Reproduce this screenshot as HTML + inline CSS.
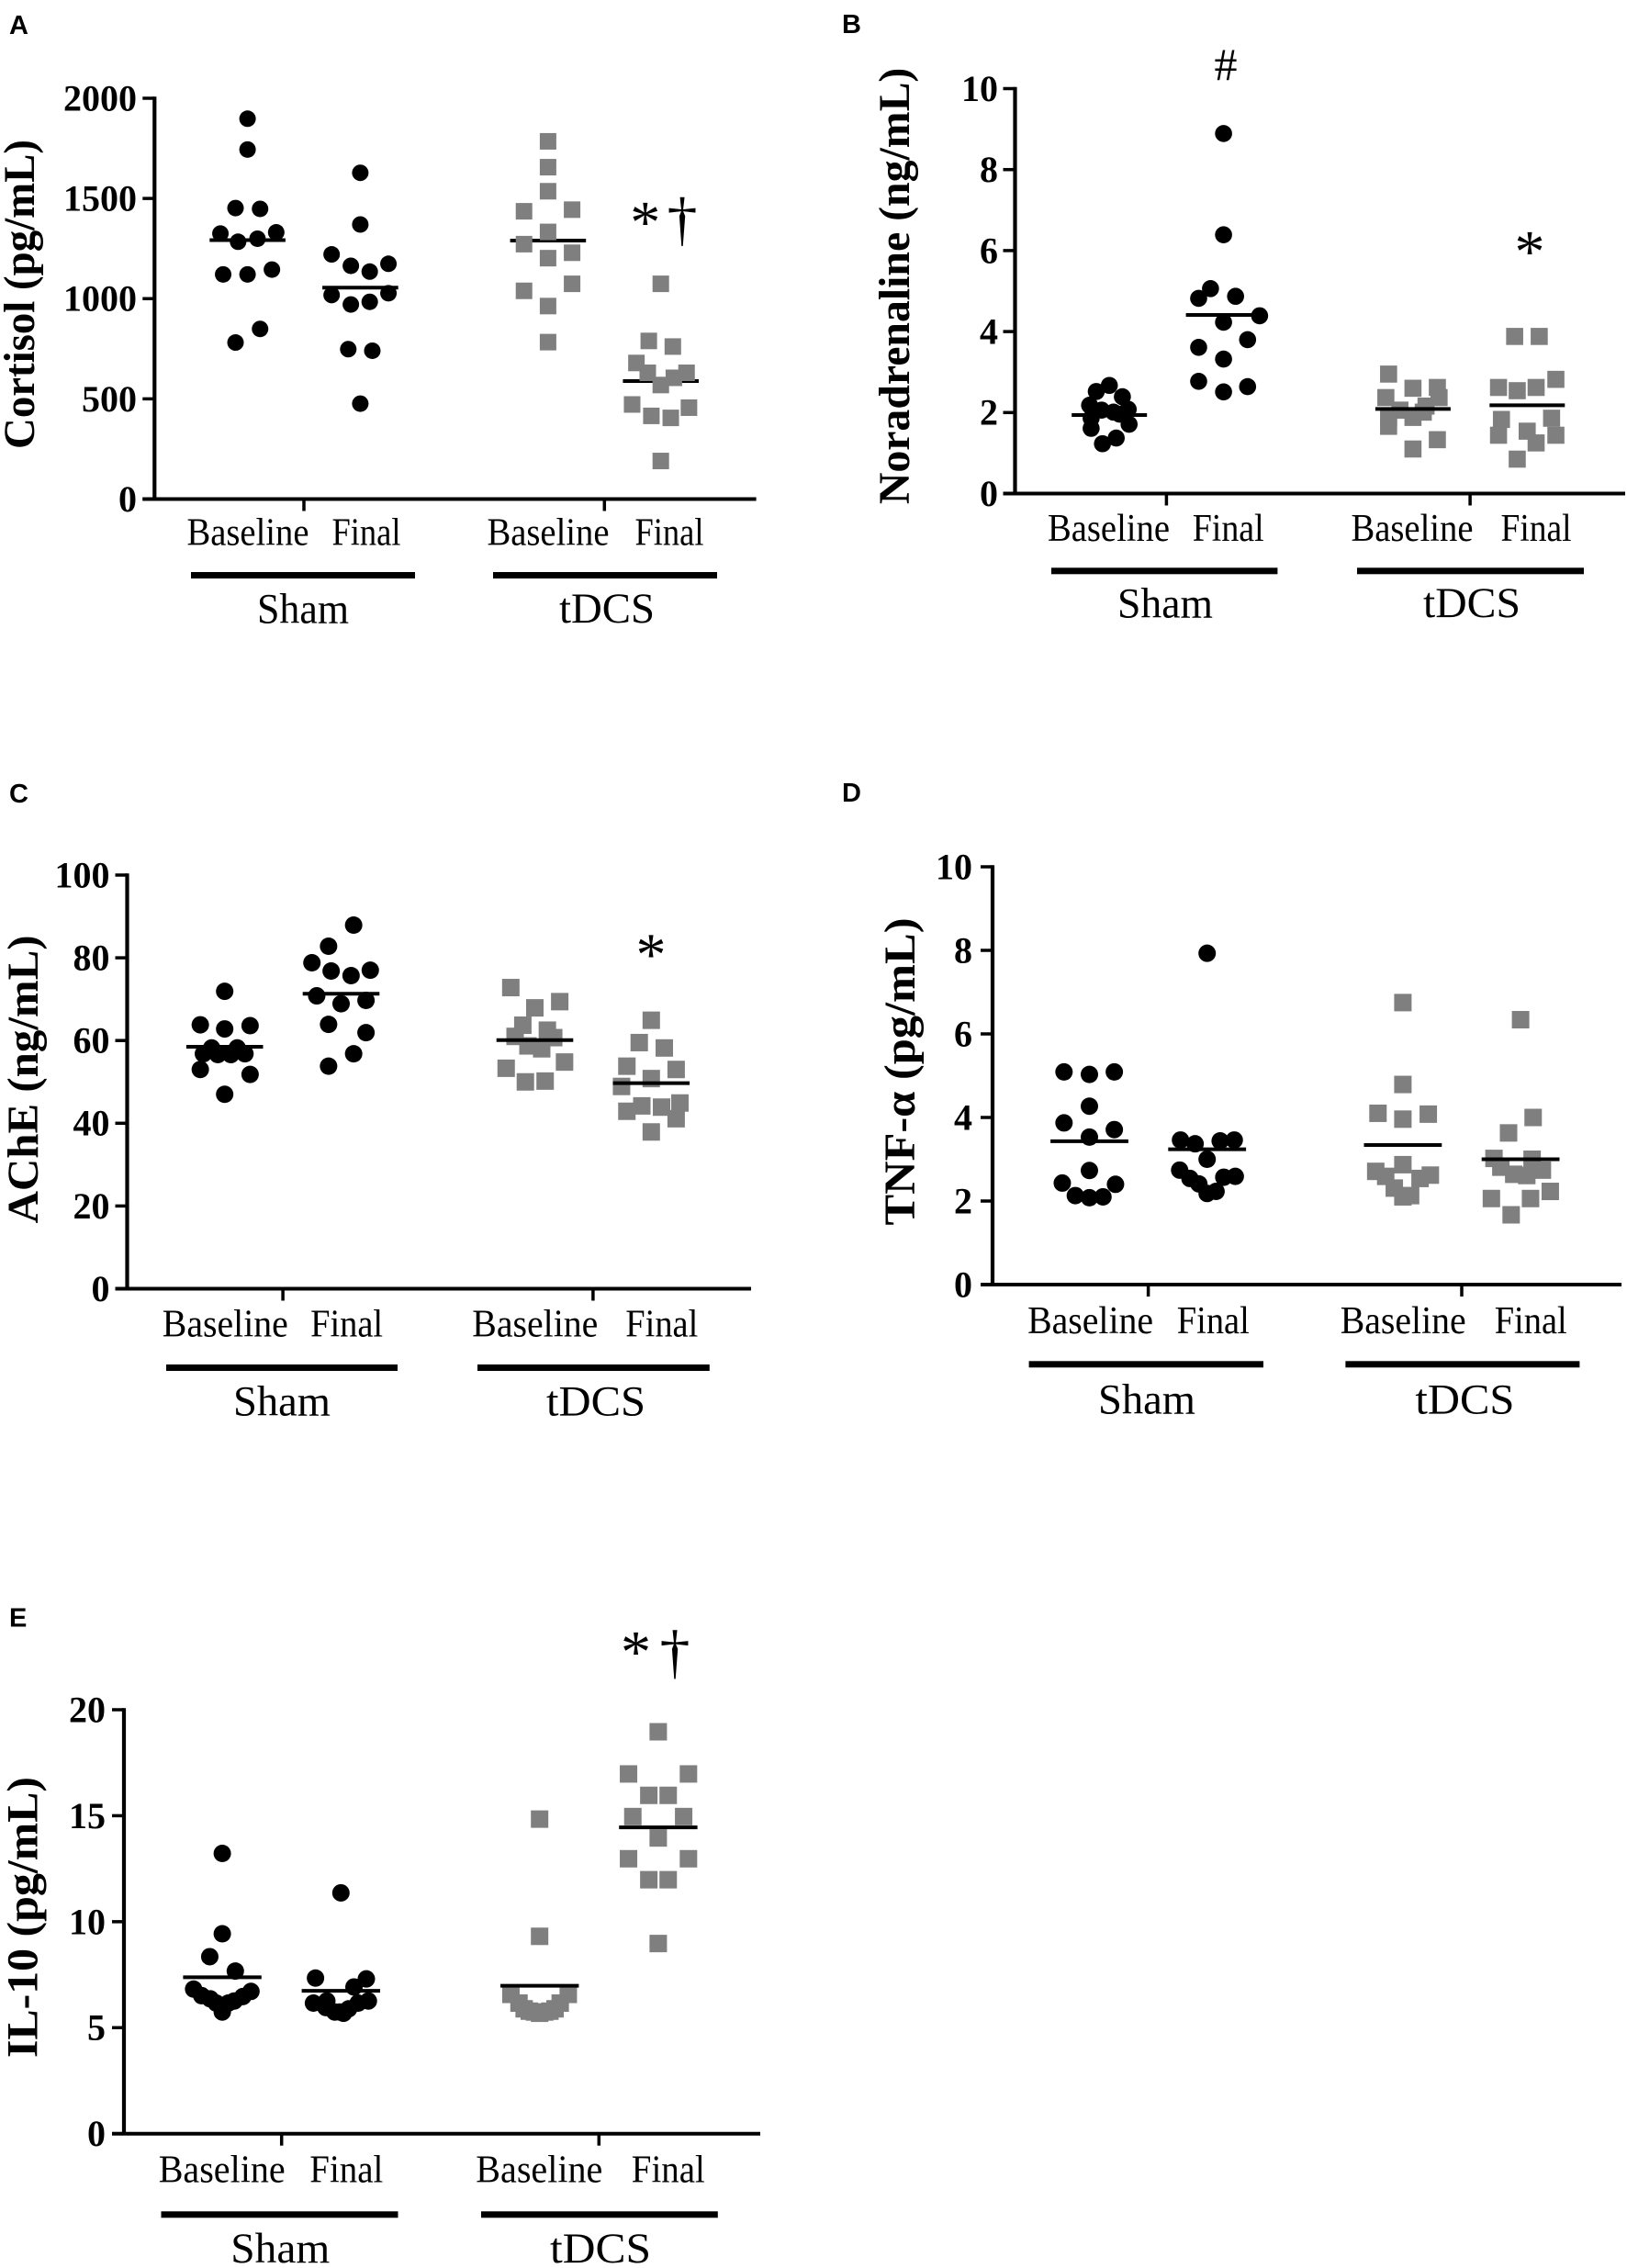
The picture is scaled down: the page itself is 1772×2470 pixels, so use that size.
<!DOCTYPE html>
<html lang="en">
<head>
<meta charset="utf-8">
<title>Biomarker dot plots</title>
<style>
html,body{margin:0;padding:0;background:#fff;}
svg{display:block;}
.tick{font:bold 40px "Liberation Serif",serif;fill:#000;text-anchor:end;}
.ttl{font:bold 48px "Liberation Serif",serif;fill:#000;text-anchor:middle;}
.cat{font:42px "Liberation Serif",serif;fill:#000;text-anchor:middle;}
.grp{font:47px "Liberation Serif",serif;fill:#000;text-anchor:middle;}
.pl{font:bold 29px "Liberation Sans",sans-serif;fill:#000;}
.sym{font:66px "Liberation Serif",serif;fill:#000;text-anchor:middle;}
.dag{font:66px "Liberation Serif",serif;fill:#000;text-anchor:middle;}
</style>
</head>
<body>
<svg id="fig" xmlns="http://www.w3.org/2000/svg" width="1772" height="2470" viewBox="0 0 1772 2470">
<rect width="1772" height="2470" fill="#fff"/>

<g>
<text class="pl" x="10" y="37">A</text>
<text class="ttl" transform="translate(37 320.5) rotate(-90)" textLength="337" lengthAdjust="spacingAndGlyphs">Cortisol (pg/mL)</text>
<text class="cat" x="270" y="593.3" textLength="133" lengthAdjust="spacingAndGlyphs">Baseline</text>
<text class="cat" x="399" y="593.3" textLength="75" lengthAdjust="spacingAndGlyphs">Final</text>
<text class="cat" x="597" y="593.3" textLength="133" lengthAdjust="spacingAndGlyphs">Baseline</text>
<text class="cat" x="729" y="593.3" textLength="75" lengthAdjust="spacingAndGlyphs">Final</text>
<rect x="208" y="623" width="244" height="7"/>
<rect x="537" y="623" width="244" height="7"/>
<text class="grp" x="330" y="678.7" textLength="100" lengthAdjust="spacingAndGlyphs">Sham</text>
<text class="grp" x="661" y="678" textLength="104" lengthAdjust="spacingAndGlyphs">tDCS</text>
<text class="sym" x="702.7" y="264">*</text>
<text class="dag" x="743" y="260.6">†</text>
</g>

<g>
<text class="pl" x="917" y="36">B</text>
<text class="ttl" transform="translate(990 311.4) rotate(-90)" textLength="475.5" lengthAdjust="spacingAndGlyphs">Noradrenaline (ng/mL)</text>
<text class="cat" x="1207.5" y="589" textLength="133" lengthAdjust="spacingAndGlyphs">Baseline</text>
<text class="cat" x="1337.7" y="589" textLength="78" lengthAdjust="spacingAndGlyphs">Final</text>
<text class="cat" x="1538" y="589" textLength="133" lengthAdjust="spacingAndGlyphs">Baseline</text>
<text class="cat" x="1673" y="589" textLength="77" lengthAdjust="spacingAndGlyphs">Final</text>
<rect x="1145" y="618.3" width="246.4" height="7"/>
<rect x="1478" y="618.3" width="247" height="7"/>
<text class="grp" x="1269" y="672.5" textLength="104" lengthAdjust="spacingAndGlyphs">Sham</text>
<text class="grp" x="1603" y="672" textLength="106" lengthAdjust="spacingAndGlyphs">tDCS</text>
<text class="sym" x="1335" y="87" style="font-size:50px">#</text>
<text class="sym" x="1666" y="296">*</text>
</g>

<g>
<text class="pl" x="10" y="874">C</text>
<text class="ttl" transform="translate(41 1175.4) rotate(-90)" textLength="314" lengthAdjust="spacingAndGlyphs">AChE (ng/mL)</text>
<text class="cat" x="245.3" y="1455.6" textLength="137" lengthAdjust="spacingAndGlyphs">Baseline</text>
<text class="cat" x="377.6" y="1455.6" textLength="79" lengthAdjust="spacingAndGlyphs">Final</text>
<text class="cat" x="582.8" y="1455.6" textLength="137" lengthAdjust="spacingAndGlyphs">Baseline</text>
<text class="cat" x="720.8" y="1455.6" textLength="79" lengthAdjust="spacingAndGlyphs">Final</text>
<rect x="181" y="1486" width="252" height="7"/>
<rect x="520" y="1486" width="252.8" height="7"/>
<text class="grp" x="307" y="1541.6" textLength="106" lengthAdjust="spacingAndGlyphs">Sham</text>
<text class="grp" x="649" y="1541.6" textLength="108" lengthAdjust="spacingAndGlyphs">tDCS</text>
<text class="sym" x="709" y="1061.5">*</text>
</g>

<g>
<text class="pl" x="917" y="873">D</text>
<text class="ttl" transform="translate(996 1167) rotate(-90)" textLength="335" lengthAdjust="spacingAndGlyphs">TNF-α (pg/mL)</text>
<text class="cat" x="1187.6" y="1452" textLength="137" lengthAdjust="spacingAndGlyphs">Baseline</text>
<text class="cat" x="1321.3" y="1452" textLength="79" lengthAdjust="spacingAndGlyphs">Final</text>
<text class="cat" x="1528.2" y="1452" textLength="137" lengthAdjust="spacingAndGlyphs">Baseline</text>
<text class="cat" x="1667.2" y="1452" textLength="79" lengthAdjust="spacingAndGlyphs">Final</text>
<rect x="1120.6" y="1482.3" width="255.4" height="7"/>
<rect x="1465.4" y="1482.3" width="255" height="7"/>
<text class="grp" x="1249" y="1539.3" textLength="106" lengthAdjust="spacingAndGlyphs">Sham</text>
<text class="grp" x="1595.4" y="1539.3" textLength="108" lengthAdjust="spacingAndGlyphs">tDCS</text>
</g>

<g>
<text class="pl" x="10" y="1771.6">E</text>
<text class="ttl" transform="translate(40.7 2088) rotate(-90)" textLength="306" lengthAdjust="spacingAndGlyphs">IL-10 (pg/mL)</text>
<text class="cat" x="241.7" y="2376.7" textLength="138" lengthAdjust="spacingAndGlyphs">Baseline</text>
<text class="cat" x="377.3" y="2376.7" textLength="80" lengthAdjust="spacingAndGlyphs">Final</text>
<text class="cat" x="587.3" y="2376.7" textLength="138" lengthAdjust="spacingAndGlyphs">Baseline</text>
<text class="cat" x="727.8" y="2376.7" textLength="80" lengthAdjust="spacingAndGlyphs">Final</text>
<rect x="175.5" y="2408.3" width="258" height="7"/>
<rect x="524" y="2408.3" width="257.8" height="7"/>
<text class="grp" x="305.3" y="2464" textLength="108" lengthAdjust="spacingAndGlyphs">Sham</text>
<text class="grp" x="654" y="2464" textLength="110" lengthAdjust="spacingAndGlyphs">tDCS</text>
<text class="sym" x="692.5" y="1821">*</text>
<text class="dag" x="735" y="1820.8">†</text>
</g>

<g id="marks"></g>
</svg>

<script>
// Y-axis tick labels
const ticksA = [0, 500, 1000, 1500, 2000];
const ticksB = [0, 2, 4, 6, 8, 10];
const ticksC = [0, 20, 40, 60, 80, 100];
const ticksD = [0, 2, 4, 6, 8, 10];
const ticksE = [0, 5, 10, 15, 20];

// Horizontal lines: group means
const meansA = [1292, 1055, 1290, 589];
const meansB = [1.94, 4.41, 2.09, 2.18];
const meansC = [58.5, 71.3, 60.1, 49.7];
const meansD = [3.43, 3.24, 3.34, 3.0];
const meansE = [7.38, 6.74, 6.98, 14.45];

// Panel A: Cortisol
const aShamBaseline = [1898,1744,1452,1448,1325,1331,1284,1299,1121,1121,1145,849,781];
const aShamBaselineJitter = [0,0,-0.7,0.73,-1.58,1.67,-0.55,0.58,-1.42,0,1.42,0.73,-0.7];
const aShamFinal = [1628,1370,1221,1174,1164,1135,1018,1027,971,984,748,740,476];
const aShamFinalJitter = [0,0,-1.67,1.64,-0.55,0.55,-1.67,1.64,-0.55,0.55,-0.7,0.7,0];
const aTdcsBaseline = [1785,1656,1536,1436,1444,1333,1272,1229,1202,1074,1039,963,783];
const aTdcsBaselineJitter = [0,0,0,-1.4,1.4,0,-1.4,1.4,0,1.4,-1.4,0,0];
const aTdcsFinal = [1074,789,761,679,630,630,605,569,472,456,415,405,190];
const aTdcsFinalJitter = [0,-0.7,0.7,-1.42,-0.76,1.5,0.76,0,-1.67,1.64,-0.55,0.58,0];

// Panel B: Noradrenaline
const bShamBaseline = [2.67,2.52,2.39,2.18,2.08,2.06,1.96,1.86,2.01,1.71,1.61,1.37,1.23];
const bShamBaselineJitter = [0,-0.76,0.76,-1.15,1.1,-0.45,0.6,-1.06,0.24,1.15,-1.06,0.4,-0.4];
const bShamFinal = [8.89,6.39,5.06,4.82,4.87,4.39,4.23,3.8,3.61,3.32,2.77,2.64,2.51];
const bShamFinalJitter = [0,0,-0.76,-1.45,0.7,2.1,0,1.4,-1.45,0,-1.45,1.4,0];
const bTdcsBaseline = [2.95,2.6,2.62,2.37,2.37,2.16,2.06,2.01,1.86,1.88,1.66,1.33,1.1];
const bTdcsBaselineJitter = [-1.42,0,1.42,-1.58,1.52,0.76,-0.76,0.6,-1.42,0,-1.42,1.42,0];
const bTdcsFinal = [3.88,3.88,2.82,2.62,2.62,2.54,1.83,1.86,1.54,1.44,1.44,1.25,0.85];
const bTdcsFinalJitter = [-0.73,0.7,1.67,-1.67,0.52,-0.58,-1.5,1.42,0,-1.67,1.67,0.52,-0.58];

// Panel C: AChE
const cShamBaseline = [71.9,63.8,63.6,62.8,58.2,58.2,56.8,56.6,56.6,56.8,53,51.8,47];
const cShamBaselineJitter = [0,-1.42,1.48,0,-0.76,0.73,-1.24,-0.4,0.36,1.18,-1.42,1.48,0];
const cShamFinal = [87.9,82.8,78.8,77,76.8,75.7,70.8,69.7,68.9,63.9,61.9,56.8,53.8];
const cShamFinalJitter = [0.73,-0.73,-1.7,1.7,-0.58,0.58,-1.42,1.45,0,-0.73,1.45,0.73,-0.73];
const cTdcsBaseline = [72.8,69.4,67.9,63.7,62.5,61,60.7,58.7,58,53.3,54.8,50,50.2];
const cTdcsBaselineJitter = [-1.4,1.45,0,-0.7,0.73,-1.15,1.1,-0.4,0.4,-1.67,1.73,-0.55,0.6];
const cTdcsFinal = [64.9,59.5,58.2,53.8,53,50.8,48.9,44.9,44.2,43.9,42.9,41.1,37.9];
const cTdcsFinalJitter = [0,-0.7,0.76,-1.42,1.45,0,-1.73,1.67,-0.55,0.6,-1.42,1.45,0];

// Panel D: TNF-alpha
const dShamBaseline = [5.09,5.03,5.09,4.27,3.87,3.71,3.53,2.73,2.43,2.4,2.13,2.08,2.1];
const dShamBaselineJitter = [-1.48,0,1.45,0,-1.48,1.45,0,0,-1.58,1.52,-0.82,0,0.79];
const dShamFinal = [7.93,3.46,3.37,3.44,3.46,3.0,2.74,2.59,2.54,2.57,2.41,2.23,2.18];
const dShamFinalJitter = [0,-1.55,-0.7,0.76,1.58,0,-1.6,1.64,-1,0.97,-0.48,0.52,0];
const dTdcsBaseline = [6.75,4.79,4.1,4.08,3.96,2.87,2.71,2.62,2.59,2.54,2.31,2.13,2.1];
const dTdcsBaselineJitter = [0,0,-1.45,1.48,0,0,-1.58,1.6,-1,1,-0.5,0.45,0];
const dTdcsFinal = [6.34,4.0,3.63,3.02,3.0,2.81,2.74,2.64,2.61,2.23,2.06,2.06,1.67];
const dTdcsFinalJitter = [0,0.73,-0.7,-1.55,0.67,-1.15,1.27,-0.4,0.36,1.73,-1.7,0.58,-0.55];

// Panel E: IL-10
const eShamBaseline = [13.22,9.43,8.35,7.67,6.82,6.71,6.51,6.47,6.36,6.26,6.16,6.16,5.74];
const eShamBaselineJitter = [0,0,-0.73,0.76,-1.67,1.67,-1.2,1.2,-0.7,0.7,-0.35,0.35,0];
const eShamFinal = [11.36,7.34,7.3,6.92,6.16,6.26,6.26,6.16,5.95,5.89,5.74,5.68,5.74];
const eShamFinalJitter = [0,-1.48,1.48,0.76,-1.6,1.6,-0.82,1,-0.88,0.45,-0.36,0.15,-0.06];
const eTdcsBaseline = [14.84,9.31,6.57,6.57,6.16,6.16,5.89,5.89,5.78,5.78,5.74,5.74,5.68];
const eTdcsBaselineJitter = [0,0,-1.67,1.67,-1.2,1.2,-0.9,0.9,-0.6,0.6,-0.3,0.3,0];
const eTdcsFinal = [18.96,16.97,16.97,15.96,15.96,14.96,14.96,13.95,12.97,12.97,11.98,11.98,8.97];
const eTdcsFinalJitter = [0,-1.73,1.76,-0.55,0.58,-1.48,1.48,0,-1.73,1.76,-0.55,0.58,0];

const SVGNS = 'http://www.w3.org/2000/svg';
const root = document.getElementById('marks');
const SYMBOL_UNIT = 18.7;   // jitter unit: one symbol width

function node(tag, parent, attrs) {
  const el = document.createElementNS(SVGNS, tag);
  for (const k in attrs) el.setAttribute(k, attrs[k]);
  parent.appendChild(el);
  return el;
}

function drawPanel(p) {
  const g = node('g', root, {});
  
  
  const maxV = p.ticks[p.ticks.length - 1];
  const y = v => p.y0 + (p.y1 - p.y0) * v / maxV;
  const catX = i => (i < 2 ? p.tickX[0] : p.tickX[1]) + (i % 2 === 0 ? -p.half : p.half);

  function drawMeans() {
    p.means.forEach((v, i) => {
      const l = node('line', g, { x1: catX(i) - p.meanHalf, x2: catX(i) + p.meanHalf, y1: y(v), y2: y(v), stroke: '#000', 'stroke-width': 4 });
      
      
    });
  }

  if (p.lineBelow) drawMeans();

  // marks
  p.series.forEach((s, i) => {
    const cx0 = catX(i);
    s.values.forEach((v, j) => {
      const cx = cx0 + s.jitter[j] * SYMBOL_UNIT;
      const cy = y(v);
      let m;
      if (i < 2) {
        m = node('ellipse', g, { cx: cx, cy: cy, rx: p.sym / 2, ry: p.sym / 2, fill: '#000' });
      } else {
        m = node('rect', g, { x: cx - p.sym / 2, y: cy - p.sym / 2, width: p.sym, height: p.sym, fill: '#7f7f7f' });
      }
      
      
    });
  });

  if (!p.lineBelow) drawMeans();

  // axes
  const ya = node('line', g, { x1: p.axisX, x2: p.axisX, y1: p.y1 - 1.8, y2: p.y0 + 1.8, stroke: '#000', 'stroke-width': 4.2 });
  
  
  const xa = node('line', g, { x1: p.axisX - 13, x2: p.xEnd, y1: p.y0, y2: p.y0, stroke: '#000', 'stroke-width': 4 });
  
  
  p.tickX.forEach(tx => {
    const t = node('line', g, { x1: tx, x2: tx, y1: p.y0, y2: p.y0 + 13, stroke: '#000', 'stroke-width': 3.5 });
    
    
  });
  p.ticks.forEach(v => {
    const t = node('line', g, { x1: p.axisX - 13, x2: p.axisX, y1: y(v), y2: y(v), stroke: '#000', 'stroke-width': 3.5 });
    
    
    const lab = node('text', g, { class: 'tick', x: p.labelX, y: y(v) + 13.4 });
    lab.textContent = String(v);
    
    
  });
}

function seriesOf(a, b, c, d, aj, bj, cj, dj) {
  return [
    { name: 'sham-baseline', values: a, jitter: aj },
    { name: 'sham-final', values: b, jitter: bj },
    { name: 'tdcs-baseline', values: c, jitter: cj },
    { name: 'tdcs-final', values: d, jitter: dj }
  ];
}

drawPanel({ id: 'a', sym: 18, lineBelow: true, ticks: ticksA, means: meansA, axisX: 168.3, xEnd: 823.6, y0: 543.5, y1: 107, labelX: 149, tickX: [331, 658.3], half: 61.4, meanHalf: 41.3,
  series: seriesOf(aShamBaseline, aShamFinal, aTdcsBaseline, aTdcsFinal, aShamBaselineJitter, aShamFinalJitter, aTdcsBaselineJitter, aTdcsFinalJitter) });
drawPanel({ id: 'b', sym: 18.6, ticks: ticksB, means: meansB, axisX: 1105.5, xEnd: 1770, y0: 537.5, y1: 96.5, labelX: 1087, tickX: [1270.4, 1601.1], half: 62.2, meanHalf: 41,
  series: seriesOf(bShamBaseline, bShamFinal, bTdcsBaseline, bTdcsFinal, bShamBaselineJitter, bShamFinalJitter, bTdcsBaselineJitter, bTdcsFinalJitter) });
drawPanel({ id: 'c', sym: 19, ticks: ticksC, means: meansC, axisX: 138.5, xEnd: 818, y0: 1403.5, y1: 953, labelX: 119.5, tickX: [308.1, 645.9], half: 63.4, meanHalf: 41.8,
  series: seriesOf(cShamBaseline, cShamFinal, cTdcsBaseline, cTdcsFinal, cShamBaselineJitter, cShamFinalJitter, cTdcsBaselineJitter, cTdcsFinalJitter) });
drawPanel({ id: 'd', sym: 19, ticks: ticksD, means: meansD, axisX: 1081, xEnd: 1766, y0: 1399, y1: 944, labelX: 1059, tickX: [1250.6, 1592], half: 64.1, meanHalf: 42.4,
  series: seriesOf(dShamBaseline, dShamFinal, dTdcsBaseline, dTdcsFinal, dShamBaselineJitter, dShamFinalJitter, dTdcsBaselineJitter, dTdcsFinalJitter) });
drawPanel({ id: 'e', sym: 19, ticks: ticksE, means: meansE, axisX: 135, xEnd: 828, y0: 2323.7, y1: 1862, labelX: 115, tickX: [306.7, 652.3], half: 64.6, meanHalf: 42.7,
  series: seriesOf(eShamBaseline, eShamFinal, eTdcsBaseline, eTdcsFinal, eShamBaselineJitter, eShamFinalJitter, eTdcsBaselineJitter, eTdcsFinalJitter) });
</script>
</body>
</html>
